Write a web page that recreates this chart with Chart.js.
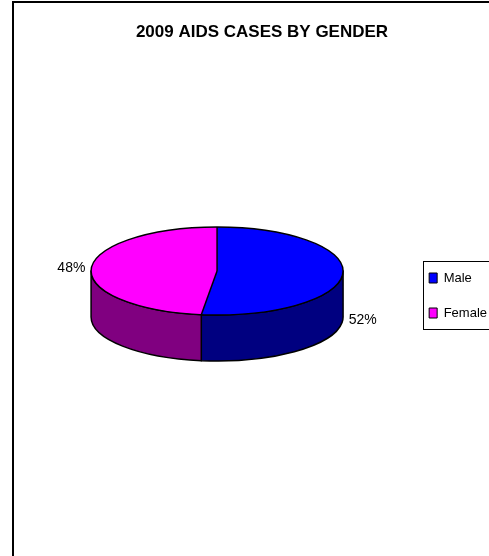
<!DOCTYPE html>
<html>
<head>
<meta charset="utf-8">
<script src="https://cdn.jsdelivr.net/npm/chart.js@4.4.1/dist/chart.umd.min.js"></script>
<style>
  html, body { margin: 0; padding: 0; background: #fff; overflow: hidden; }
  #wrap { width: 489px; height: 556px; overflow: hidden; }
</style>
</head>
<body>
<div id="wrap"><canvas id="chartPie" width="520" height="556"></canvas></div>
<script>
const chartTitle = "2009 AIDS CASES BY GENDER";
const genders = ["Male", "Female"];
const shares = [52, 48];
const topColors = ["#0000ff", "#ff00ff"];
const sideColors = ["#000080", "#800080"];

const FONT = "'Liberation Sans', Arial, sans-serif";
const TILT = 44 / 126; // how flat the top ellipse is
const DEPTH = 46;      // height of the pie's side wall

// fake Excel-style 3D pie: side walls + squashed top face
const pie3d = {
  id: "pie3d",
  beforeDraw(chart) {
    const ctx = chart.ctx;
    ctx.save();
    ctx.fillStyle = "#fff";
    ctx.fillRect(0, 0, chart.width, chart.height);
    ctx.strokeStyle = "#000";
    ctx.lineWidth = 2;
    ctx.beginPath();
    ctx.moveTo(13, chart.height + 2);
    ctx.lineTo(13, 2);
    ctx.lineTo(chart.width + 2, 2);
    ctx.stroke();
    ctx.restore();
  },
  afterLayout(chart) {
    // Excel puts the legend a bit below the pie centre
    chart.legend.top += 97;
    chart.legend.bottom += 97;
  },
  beforeDatasetsDraw(chart) {
    const ctx = chart.ctx;
    const arcs = chart.getDatasetMeta(0).data;
    ctx.save();
    ctx.lineWidth = 1.5;
    ctx.strokeStyle = "#000";
    ctx.lineJoin = "round";
    arcs.forEach((arc, i) => {
      const a = Math.max(arc.startAngle, 0);
      const b = Math.min(arc.endAngle, Math.PI);
      if (a >= b) return;
      const rx = arc.outerRadius, ry = rx * TILT;
      ctx.beginPath();
      ctx.ellipse(arc.x, arc.y, rx, ry, 0, a, b);
      ctx.ellipse(arc.x, arc.y + DEPTH, rx, ry, 0, b, a, true);
      ctx.closePath();
      ctx.fillStyle = sideColors[i];
      ctx.fill();
      ctx.stroke();
    });
    ctx.restore();

    const { x, y } = arcs[0];
    ctx.save();
    ctx.translate(x, y);
    ctx.scale(1, TILT);
    ctx.translate(-x, -y);
  },
  afterDatasetsDraw(chart) {
    const ctx = chart.ctx;
    ctx.restore();
    const arcs = chart.getDatasetMeta(0).data;
    const { x, y, outerRadius } = arcs[0];
    const rx = outerRadius, ry = rx * TILT;

    ctx.save();
    ctx.strokeStyle = "#000";
    ctx.lineWidth = 1.5;
    ctx.beginPath();
    ctx.ellipse(x, y, rx, ry, 0, 0, 2 * Math.PI);
    ctx.stroke();
    arcs.forEach((arc) => {
      ctx.beginPath();
      ctx.moveTo(x, y);
      ctx.lineTo(x + rx * Math.cos(arc.startAngle), y + ry * Math.sin(arc.startAngle));
      ctx.stroke();
    });

    // percentage labels outside the slices
    const total = shares.reduce((s, v) => s + v, 0);
    ctx.font = "14px " + FONT;
    ctx.fillStyle = "#000";
    ctx.textAlign = "center";
    ctx.textBaseline = "middle";
    arcs.forEach((arc, i) => {
      const mid = (arc.startAngle + arc.endAngle) / 2;
      const s = Math.sin(mid);
      const lx = x + (rx + 20) * Math.cos(mid);
      const ly = y + ry * s + (s > 0 ? DEPTH : 0);
      ctx.fillText(Math.round((shares[i] / total) * 100) + "%", lx, ly);
    });
    ctx.restore();
  },
  afterDraw(chart) {
    // box round the legend
    const ctx = chart.ctx;
    const hb = chart.legend.legendHitBoxes;
    if (!hb || !hb.length) return;
    const last = hb[hb.length - 1];
    const top = Math.round(hb[0].top - 11);
    const bottom = Math.round(last.top + last.height + 9);
    ctx.save();
    ctx.strokeStyle = "#000";
    ctx.lineWidth = 1;
    ctx.strokeRect(Math.round(hb[0].left - 6) + 0.5, top + 0.5, 200, bottom - top);
    ctx.restore();
  }
};

const dataPie = {
  labels: genders,
  datasets: [
    {
      data: shares,
      backgroundColor: topColors,
      borderWidth: 0,
      hoverOffset: 0,
    },
  ],
};

const configPie = {
  type: "doughnut",
  data: dataPie,
  options: {
    responsive: false,
    animation: false,
    events: [],
    cutout: 0,
    layout: { padding: { left: 27, right: 23, top: 0, bottom: 159 } },
    plugins: {
      title: {
        display: true,
        text: chartTitle,
        color: "#000",
        font: { family: FONT, size: 17, weight: "bold" },
        padding: { top: 22, bottom: 102.6 },
      },
      legend: {
        position: "right",
        labels: {
          boxWidth: 8,
          boxHeight: 10,
          padding: 22,
          color: "#000",
          font: { family: FONT, size: 13 },
          generateLabels(chart) {
            const base = Chart.overrides.doughnut.plugins.legend.labels.generateLabels(chart);
            return base.map((l) => ({ ...l, strokeStyle: "#000", lineWidth: 1 }));
          },
        },
      },
      tooltip: { enabled: false },
    },
  },
  plugins: [pie3d],
};

var chartPie = new Chart(document.getElementById("chartPie"), configPie);
</script>
</body>
</html>
